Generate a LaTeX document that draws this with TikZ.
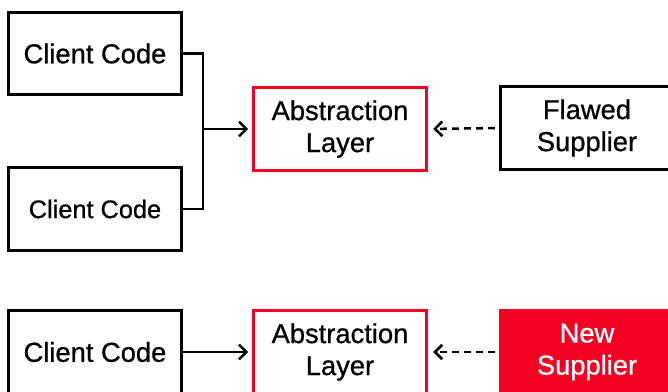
\documentclass[tikz,border=0pt]{standalone}
\usepackage{fontspec}
\setmainfont{Liberation Sans}[UprightFeatures={FakeBold=0.8}]
\usetikzlibrary{arrows,arrows.meta,positioning,calc}
\definecolor{layerred}{RGB}{245,0,35}

\begin{document}
\begin{tikzpicture}[x=0.75pt,y=-0.75pt,
    >={Straight Barb[length=5.5pt,width=11pt]},
    box/.style={draw,line width=2.2pt,minimum width=130pt,minimum height=62pt,
      align=center,font=\fontsize{20.5}{24}\selectfont},
    layer/.style={box,draw=layerred,line width=1.8pt},
    link/.style={line width=1.9pt,->},
    weak/.style={link,dash pattern=on 5pt off 4pt}]
  \useasboundingbox (0,0) rectangle (668,392);
  % old setup: two clients and the flawed supplier
  \node[box] (cc1) at (95,53.5) {Client Code};
  \node[box,font=\fontsize{19}{24}\selectfont] (cc2) at (95,209) {Client Code};
  \node[layer] (al1) at (340,129) {Abstraction\\Layer};
  \node[box] (fs) at (587,128) {Flawed\\Supplier};
  \coordinate (j) at (203,129);
  \draw[line width=1.9pt] (cc1.east) -| (j) |- (cc2.east);
  \draw[link,shorten >=3pt] (j) -- (al1.west);
  \draw[weak,shorten <=3pt,shorten >=4pt] (fs.west) -- (al1.east);
  % new setup: one client and the new supplier
  \node[box] (cc3) at (95,352) {Client Code};
  \node[layer] (al2) at (340,352) {Abstraction\\Layer};
  \node[box,draw=layerred,fill=layerred,text=white] (ns) at (587,352) {New\\Supplier};
  \draw[link,shorten >=3pt] (cc3.east) -- (al2.west);
  \draw[weak,shorten <=3pt,shorten >=4pt] (ns.west) -- (al2.east);
\end{tikzpicture}
\end{document}
